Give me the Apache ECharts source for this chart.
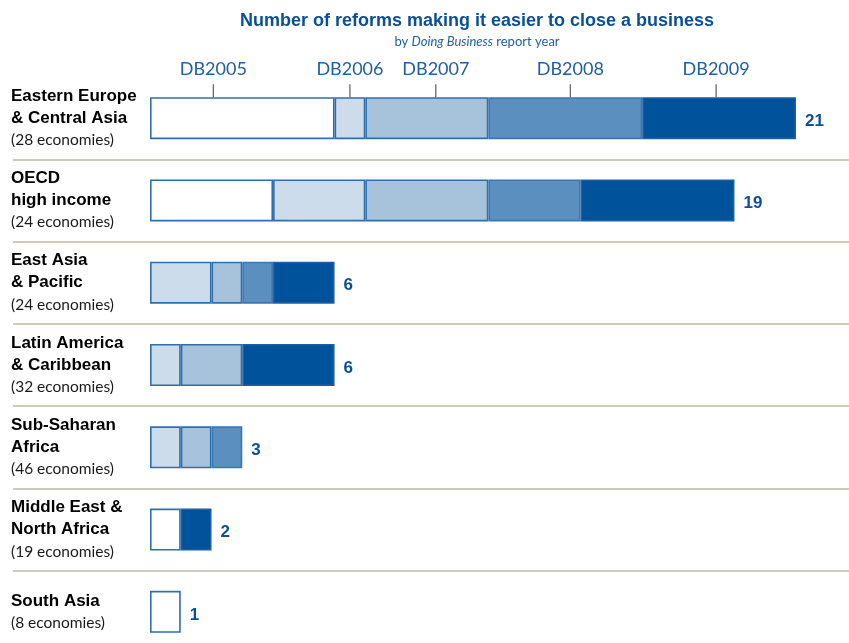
<!DOCTYPE html>
<html>
<head>
<meta charset="utf-8">
<script src="https://cdn.jsdelivr.net/npm/echarts@6/dist/echarts.min.js"></script>
<style>
html,body{margin:0;padding:0;background:#fff;}
#chart{width:849px;height:643px;}
</style>
</head>
<body>
<div id="chart"></div>
<script>
// ---- data ----
const regions = [
  'Eastern Europe\n& Central Asia',
  'OECD\nhigh income',
  'East Asia\n& Pacific',
  'Latin America\n& Caribbean',
  'Sub-Saharan\nAfrica',
  'Middle East &\nNorth Africa',
  'South Asia'
];
const economies = [28, 24, 24, 32, 46, 19, 8];
const years = ['DB2005', 'DB2006', 'DB2007', 'DB2008', 'DB2009'];
const db2005 = [6, 4, 0, 0, 0, 1, 1];
const db2006 = [1, 3, 2, 1, 1, 0, 0];
const db2007 = [4, 4, 1, 2, 1, 0, 0];
const db2008 = [5, 3, 1, 0, 1, 0, 0];
const db2009 = [5, 5, 2, 3, 0, 1, 0];
const seriesValues = [db2005, db2006, db2007, db2008, db2009];

// ---- styles ----
const FONT = 'Lato, "Liberation Sans", sans-serif';
const BOLD = '"Liberation Sans", Arial, sans-serif';
const BLUE = '#0b4f97';
const fills = ['#ffffff', '#cddceb', '#a7c3dc', '#5b8fbf', '#00529b'];
const borderCols = ['#2f6fae', '#2f6fae', '#2f6fae', '#3a77b3', '#1c5fa3'];
const leaderShift = [-29, 0, 9, 5, -3];

const totals = regions.map((_, i) => seriesValues.reduce((s, arr) => s + arr[i], 0));

const chart = echarts.init(document.getElementById('chart'), null, {renderer: 'canvas'});

const stacked = years.map((name, k) => ({
  name: name,
  type: 'bar',
  stack: 'all',
  xAxisIndex: 0,
  yAxisIndex: 0,
  barWidth: 42,
  itemStyle: {color: fills[k], borderColor: borderCols[k], borderWidth: 1.6},
  emphasis: {disabled: true},
  label: {show: false},
  z: 3,
  data: seriesValues[k].map((v, i) => {
    const val = v === 0 ? '-' : v;
    if (i === 0) {
      return {
        value: val,
        label: {
          show: true,
          position: 'top',
          distance: 0,
          offset: [leaderShift[k], 0],
          formatter: '{t|' + name + '}\n{l| }',
          rich: {
            t: {fontFamily: FONT, fontSize: 18, color: '#1f5fa3', lineHeight: 29, align: 'center'},
            l: {width: 1, height: 13, lineHeight: 13, backgroundColor: '#3a3a3a', align: 'center'}
          }
        }
      };
    }
    return val;
  })
}));

const totalSeries = {
  name: 'total',
  type: 'bar',
  xAxisIndex: 0,
  yAxisIndex: 0,
  barWidth: 42,
  barGap: '-100%',
  itemStyle: {color: 'rgba(0,0,0,0)'},
  emphasis: {disabled: true},
  z: 1,
  label: {
    show: true,
    position: 'right',
    distance: 9,
    color: BLUE,
    fontFamily: BOLD,
    fontWeight: 'bold',
    fontSize: 17,
    offset: [0, 3]
  },
  data: totals
};

// invisible series on second grid so the separator axis renders
const sepSeries = {
  type: 'bar',
  xAxisIndex: 1,
  yAxisIndex: 1,
  silent: true,
  itemStyle: {color: 'rgba(0,0,0,0)'},
  data: regions.map(() => 0)
};

const option = {
  backgroundColor: '#ffffff',
  animation: false,
  title: {
    text: 'Number of reforms making it easier to close a business',
    subtext: 'by {i|Doing Business} report year',
    left: 472,
    top: 7,
    textAlign: 'center',
    itemGap: 5,
    textStyle: {fontFamily: BOLD, fontWeight: 'bold', fontSize: 18, color: BLUE},
    subtextStyle: {
      fontFamily: FONT, fontSize: 13, color: '#1f5fa3',
      rich: {i: {fontFamily: FONT, fontSize: 13, color: '#1f5fa3', fontStyle: 'italic'}}
    }
  },
  grid: [
    {left: 150, right: 53, top: 77, height: 576, outerBoundsMode: 'none'},
    {left: 13, right: 0, top: 77, height: 576, outerBoundsMode: 'none'}
  ],
  xAxis: [
    {type: 'value', gridIndex: 0, min: 0, max: 21, show: false},
    {type: 'value', gridIndex: 1, min: 0, max: 1, show: false}
  ],
  yAxis: [
    {
      type: 'category',
      gridIndex: 0,
      data: regions,
      inverse: true,
      axisLine: {show: false},
      axisTick: {show: false},
      splitLine: {show: false},
      axisLabel: {
        align: 'left',
        margin: 139,
        formatter: function (value, idx) {
          const lines = value.split('\n').map(l => '{b|' + l + '}');
          return lines.join('\n') + '\n{n|(' + economies[idx] + ' economies)}';
        },
        rich: {
          b: {fontFamily: BOLD, fontWeight: 'bold', fontSize: 17, color: '#000', lineHeight: 22},
          n: {fontFamily: FONT, fontSize: 15.5, color: '#1a1a1a', lineHeight: 22}
        }
      }
    },
    {
      type: 'category',
      gridIndex: 1,
      data: regions,
      inverse: true,
      axisLine: {show: false},
      axisTick: {show: false},
      axisLabel: {show: false},
      splitLine: {
        show: true,
        lineStyle: {
          width: 2,
          color: ['rgba(0,0,0,0)', '#cfc9bb', '#cfc9bb', '#cfc9bb', '#cfc9bb', '#cfc9bb', '#cfc9bb', 'rgba(0,0,0,0)']
        }
      }
    }
  ],
  series: [sepSeries, totalSeries].concat(stacked)
};

chart.setOption(option);
</script>
</body>
</html>
